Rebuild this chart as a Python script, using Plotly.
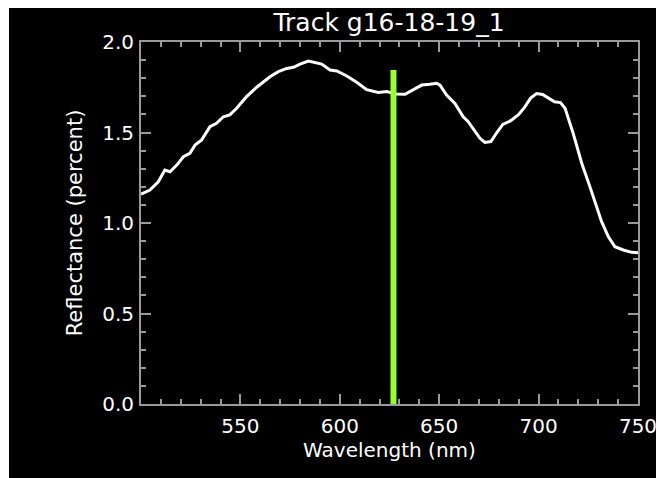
import plotly.graph_objects as go

# spectrum
wavelength = [500, 504.5, 508.7, 512, 514.6, 518, 521.3, 524.6, 527.2, 530.5,
              534.7, 538, 541.4, 544.7, 548.1, 553.1, 558.2, 561.5, 564.9, 569.1,
              573.3, 576.7, 580, 584.2, 587.5, 590.9, 595.1, 598.5, 603.5, 608.5,
              613.5, 619.4, 623.6, 628.3, 632.8, 636.2, 641.2, 645.3, 648.7, 650.4,
              653.7, 657.9, 662.1, 664.6, 668, 670.5, 673, 676, 679, 682,
              686, 690, 693, 696, 699, 702, 705, 708, 711, 713.3,
              717.4, 721.7, 725.8, 729.2, 731.7, 735.1, 738.4, 742.6, 746.8, 750]
reflectance = [1.16, 1.182, 1.228, 1.293, 1.283, 1.32, 1.366, 1.385, 1.431, 1.459,
               1.532, 1.551, 1.587, 1.597, 1.634, 1.698, 1.75, 1.781, 1.808, 1.836,
               1.854, 1.86, 1.878, 1.895, 1.886, 1.878, 1.845, 1.84, 1.812, 1.778,
               1.737, 1.721, 1.726, 1.713, 1.711, 1.731, 1.762, 1.766, 1.772, 1.762,
               1.707, 1.661, 1.587, 1.56, 1.504, 1.468, 1.445, 1.45, 1.5, 1.545,
               1.565, 1.6, 1.64, 1.69, 1.715, 1.71, 1.69, 1.67, 1.665, 1.634,
               1.495, 1.33, 1.201, 1.09, 1.007, 0.924, 0.869, 0.851, 0.838, 0.836]

marker_wl = [627, 627]
marker_val = [0, 1.845]

x_ticks = [550, 600, 650, 700, 750]
y_ticks = [0.0, 0.5, 1.0, 1.5, 2.0]

FONT = "DejaVu Sans"
AX = "#9a9a9a"

fig = go.Figure()
fig.add_trace(go.Scatter(x=wavelength, y=reflectance, mode="lines",
                         line=dict(color="white", width=3), showlegend=False))
fig.add_trace(go.Scatter(x=marker_wl, y=marker_val, mode="lines",
                         line=dict(color="#99ff33", width=6), showlegend=False))

axis_common = dict(showgrid=False, zeroline=False, showline=True, linecolor=AX, linewidth=2,
                   mirror="ticks", ticks="inside", ticklen=10, tickwidth=2, tickcolor=AX,
                   tickfont=dict(family=FONT, size=20, color="white"))

fig.update_xaxes(range=[500, 750], tickvals=x_ticks,
                 minor=dict(dtick=10, tick0=500, ticks="inside", ticklen=5, tickwidth=2, tickcolor=AX),
                 title=dict(text="Wavelength (nm)", font=dict(family=FONT, size=20, color="white"), standoff=6),
                 ticklabelstandoff=3, **axis_common)
fig.update_yaxes(range=[0, 2.0], tickvals=y_ticks, tickformat=".1f",
                 minor=dict(dtick=0.1, tick0=0, ticks="inside", ticklen=5, tickwidth=2, tickcolor=AX),
                 title=dict(text="Reflectance (percent)", font=dict(family=FONT, size=21, color="white"), standoff=14),
                 ticklabelstandoff=1, **axis_common)

# the page has an 8px body margin, so the plot box sits at 133..630 x 34..396 inside the figure
fig.update_layout(
    width=664, height=478,
    margin=dict(l=133, r=34, t=34, b=82),
    paper_bgcolor="white", plot_bgcolor="black",
    title=dict(text="Track g16-18-19_1", x=381 / 664, xanchor="center",
               y=1 - 14 / 478, yanchor="middle",
               font=dict(family=FONT, size=25, color="white")),
    shapes=[
        dict(type="rect", xref="paper", yref="paper", layer="below",
             x0=(1 - 133) / 497, x1=1.2, y0=-0.4, y1=1.2,
             fillcolor="black", line=dict(width=0)),
    ],
)

fig.write_html("out.html")
